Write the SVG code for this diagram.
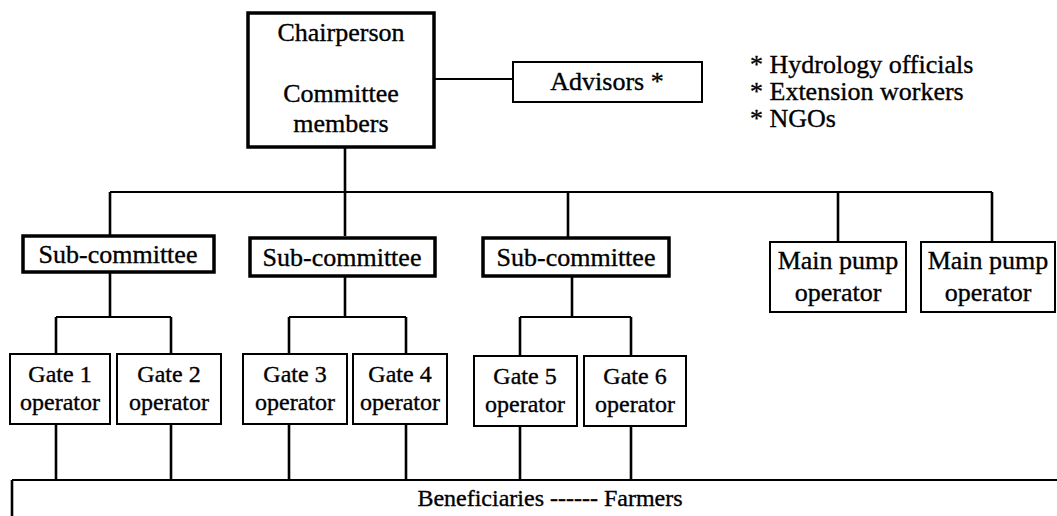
<svg xmlns="http://www.w3.org/2000/svg" width="1057" height="516" viewBox="0 0 1057 516">
<style>
text{font-family:"Liberation Serif","Times New Roman",serif;font-size:26px;fill:#000;stroke:#000;stroke-width:0.35;text-anchor:middle}
.l{text-anchor:start}
.g{font-size:24px}
.thick{fill:#fff;stroke:#000;stroke-width:3.5}
.thin{fill:#fff;stroke:#000;stroke-width:2}
.v{stroke:#000;stroke-width:2.6;fill:none}
.h{stroke:#000;stroke-width:1.8;fill:none}
</style>
<rect width="1057" height="516" fill="#fff"/>
<g id="connectors">
<path class="h" d="M434 79H513"/>
<path class="v" d="M345 147V236"/>
<path class="h" d="M110 192H992"/>
<path class="v" d="M110 192V236M568 192V238M838 192V242M992 192V242"/>
<path class="v" d="M110 272V317M345 276V317M572 276V317"/>
<path class="h" d="M56 317H171M289 317H406M520 317H631"/>
<path class="v" d="M56 317V354M171 317V354M289 317V354M406 317V354M520 317V356M631 317V356"/>
<path class="v" d="M56 424V480M171 424V480M289 424V480M406 424V480M520 426V480M631 426V480"/>
<path class="h" d="M12 480H1057"/>
<path class="v" d="M12 480V516"/>
</g>
<g id="chairperson"><rect class="thick" x="248" y="13" width="186" height="134"/><text x="341" y="41">Chairperson</text><text x="341" y="102">Committee</text><text x="341" y="132">members</text></g>
<g id="advisors"><rect class="thin" x="513" y="62" width="189" height="40"/><text x="607" y="90">Advisors *</text></g>
<g id="advisor-list"><text class="l" x="750" y="73">* Hydrology officials</text><text class="l" x="750" y="100">* Extension workers</text><text class="l" x="750" y="127">* NGOs</text></g>
<g id="sub1"><rect class="thick" x="23" y="236" width="191" height="36"/><text x="118" y="263">Sub-committee</text></g>
<g id="sub2"><rect class="thick" x="250" y="238" width="185" height="38"/><text x="342" y="266">Sub-committee</text></g>
<g id="sub3"><rect class="thick" x="483" y="238" width="186" height="38"/><text x="576" y="266">Sub-committee</text></g>
<g id="pump1"><rect class="thin" x="770" y="242" width="136" height="70"/><text x="838" y="269">Main pump</text><text x="838" y="301">operator</text></g>
<g id="pump2"><rect class="thin" x="921" y="242" width="134" height="70"/><text x="988" y="269">Main pump</text><text x="988" y="301">operator</text></g>
<g id="gate1"><rect class="thin" x="10" y="354" width="100" height="70"/><text class="g" x="60" y="382">Gate 1</text><text class="g" x="60" y="410">operator</text></g>
<g id="gate2"><rect class="thin" x="117" y="354" width="104" height="70"/><text class="g" x="169" y="382">Gate 2</text><text class="g" x="169" y="410">operator</text></g>
<g id="gate3"><rect class="thin" x="243" y="354" width="104" height="70"/><text class="g" x="295" y="382">Gate 3</text><text class="g" x="295" y="410">operator</text></g>
<g id="gate4"><rect class="thin" x="353" y="354" width="94" height="70"/><text class="g" x="400" y="382">Gate 4</text><text class="g" x="400" y="410">operator</text></g>
<g id="gate5"><rect class="thin" x="474" y="356" width="103" height="70"/><text class="g" x="525" y="384">Gate 5</text><text class="g" x="525" y="412">operator</text></g>
<g id="gate6"><rect class="thin" x="584" y="356" width="102" height="70"/><text class="g" x="635" y="384">Gate 6</text><text class="g" x="635" y="412">operator</text></g>
<g id="beneficiaries"><text x="550" y="506" style="font-size:24px">Beneficiaries ------ Farmers</text></g>
</svg>
